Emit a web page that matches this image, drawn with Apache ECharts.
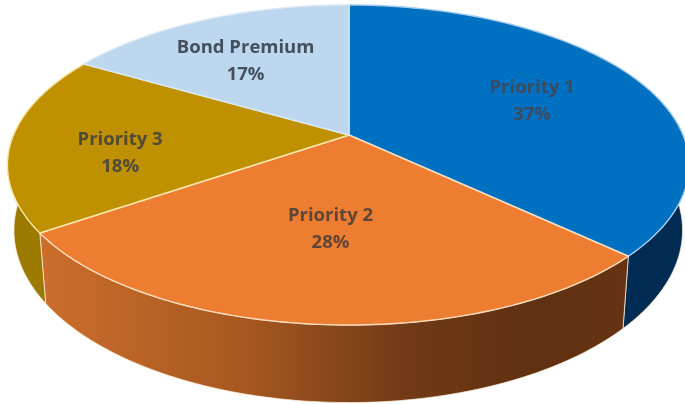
<!DOCTYPE html>
<html>
<head>
<meta charset="utf-8">
<style>
html,body{margin:0;padding:0;background:#fff;}
#chart{width:685px;height:404px;filter:blur(0.7px);}
</style>
<script src="https://cdn.jsdelivr.net/npm/echarts@6/dist/echarts.min.js"></script>
</head>
<body>
<div id="chart"></div>
<script>
const categories = ["Priority 1", "Priority 2", "Priority 3", "Bond Premium"];
const shares = [37, 28.4, 18, 16.6];

const topColors = ["#0070C0", "#ED7D31", "#BF9000", "#BDD7EE"];
const rimColors = ["#A5CDEE", "#FBDDBD", "#F6E6A6", "#D8E7F5"];
const labelColors = ["#3B4C60", "#5E4638", "#4F4A3A", "#44505E"];
const labelRadius = [0.6, 0.55, 0.7, 0.6];
const labelNudgeX = [7, -3, 7, -12];
const labelNudgeY = [1.5, 0, 14, -1];

const CX = 349, CY = 135, RX_RIGHT = 334, RX_LEFT = 335.5, H = 154.4, K = 0.1875, DEPTH = 63, BOTTOM_X = 0.981;
const total = shares.reduce((a, b) => a + b, 0);

function project(theta, f) {
  const u = f * Math.sin(theta), v = f * Math.cos(theta), d = 1 + K * v;
  return [CX + (u < 0 ? RX_LEFT : RX_RIGHT) * u / d, CY - H * v / d, d];
}
function rimTop(theta) { return project(theta, 1).slice(0, 2); }
function rimBottom(theta) {
  const p = project(theta, 1);
  return [CX + (p[0] - CX) * BOTTOM_X, p[1] + DEPTH / p[2]];
}
function range(i) {
  const before = shares.slice(0, i).reduce((a, b) => a + b, 0);
  return [before / total * 2 * Math.PI, (before + shares[i]) / total * 2 * Math.PI];
}
function arc(a, b, fn) {
  const out = [], n = 90;
  for (let j = 0; j <= n; j++) out.push(fn(a + (b - a) * j / n));
  return out;
}
function sideFill(i) {
  if (i === 0) return "#002B52";
  if (i === 2) return "#9C7A00";
  if (i === 3) return "#7A8DA0";
  return new echarts.graphic.LinearGradient(40, 0, 625, 0, [
    { offset: 0, color: "#CC6E2C" },
    { offset: 0.35, color: "#A65820" },
    { offset: 0.62, color: "#723A16" },
    { offset: 0.85, color: "#5F3011" },
    { offset: 1, color: "#663412" }
  ], true);
}
function renderSide(params) {
  const i = params.dataIndex, r = range(i);
  const pts = arc(r[0], r[1], rimTop).concat(arc(r[0], r[1], rimBottom).reverse());
  return {
    type: "polygon",
    shape: { points: pts },
    style: { fill: sideFill(i), stroke: "rgba(255,238,220,0.75)", lineWidth: 1 }
  };
}
function renderTop(params) {
  const i = params.dataIndex, r = range(i), mid = (r[0] + r[1]) / 2;
  const pts = [[CX, CY]].concat(arc(r[0], r[1], rimTop));
  const c = project(mid, labelRadius[i]);
  return {
    type: "group",
    children: [
      { type: "polygon", shape: { points: pts },
        style: { fill: topColors[i], stroke: rimColors[i], lineWidth: 1.4, lineJoin: "round" } },
      { type: "text", z2: 10,
        style: {
          x: c[0] + labelNudgeX[i], y: c[1] + labelNudgeY[i],
          text: categories[i] + "\n" + Math.round(shares[i]) + "%",
          fill: labelColors[i],
          font: "bold 18.5px 'Open Sans', sans-serif",
          lineHeight: 27, align: "center", verticalAlign: "middle"
        } }
    ]
  };
}
const seriesData = categories.map((name, i) => ({ name, value: shares[i] }));
const chart = echarts.init(document.getElementById("chart"), null, { renderer: "canvas" });
chart.setOption({
  animation: false,
  backgroundColor: "#fff",
  series: [
    { type: "custom", coordinateSystem: "none", z: 1, data: seriesData, renderItem: renderSide, silent: true },
    { type: "custom", coordinateSystem: "none", z: 2, data: seriesData, renderItem: renderTop, silent: true }
  ]
});
</script>
</body>
</html>
